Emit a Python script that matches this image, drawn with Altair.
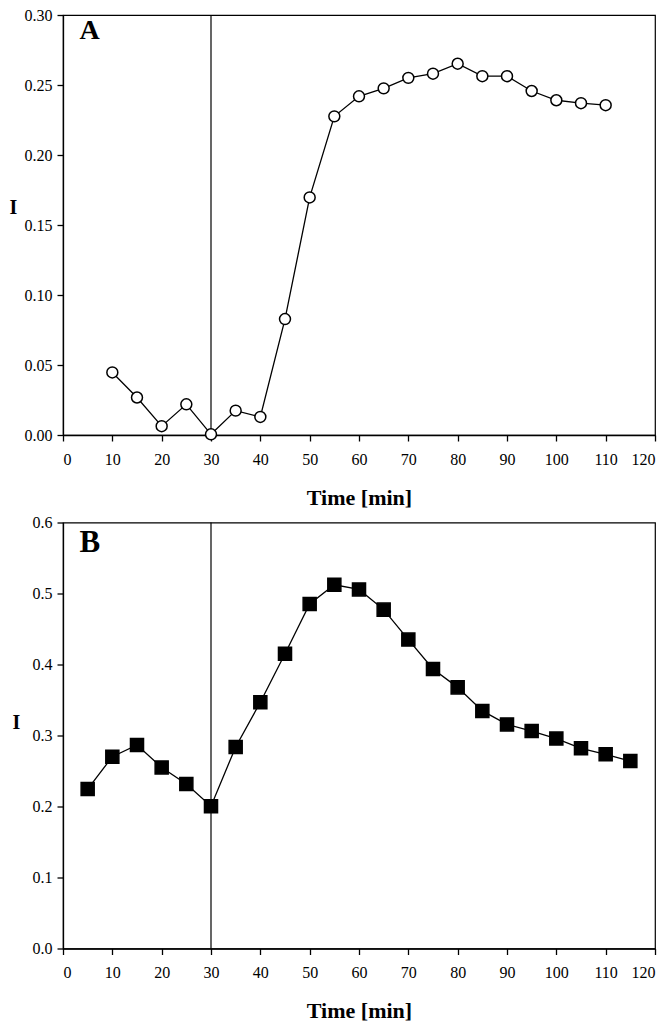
import altair as alt
import pandas as pd

time_a = [10, 15, 20, 25, 30, 35, 40, 45, 50, 55, 60, 65, 70, 75, 80, 85, 90, 95, 100, 105, 110]
i_a = [0.0447, 0.0268, 0.0063, 0.0219, 0.0005, 0.0174, 0.0129, 0.0828, 0.1697, 0.2276,
       0.2419, 0.2476, 0.2551, 0.2581, 0.2652, 0.2563, 0.2563, 0.2457, 0.2391, 0.2370, 0.2356]

time_b = [5, 10, 15, 20, 25, 30, 35, 40, 45, 50, 55, 60, 65, 70, 75, 80, 85, 90, 95, 100, 105, 110, 115]
i_b = [0.2246, 0.2701, 0.2867, 0.2550, 0.2318, 0.2005, 0.2839, 0.3469, 0.4152, 0.4853, 0.5123,
       0.5057, 0.4773, 0.4351, 0.3938, 0.3678, 0.3346, 0.3156, 0.3062, 0.2957, 0.2820, 0.2735, 0.2640]

x_ticks = list(range(0, 121, 10))
vline_time = [30]
FONT = "Liberation Serif"

df_a = pd.DataFrame({"t": time_a, "I": i_a})
df_b = pd.DataFrame({"t": time_b, "I": i_b})
df_v = pd.DataFrame({"t": vline_time})

W = 592


def panel(df, h, ymax, ystep, fmt, letter, letter_size, letter_y, shape, filled, size,
          ititle_x, ititle_y):
    x = alt.X("t:Q", scale=alt.Scale(domain=[0, 120], nice=False),
              axis=alt.Axis(values=x_ticks, title="Time [min]", grid=False,
                            tickSize=6, labelPadding=10,
                            titleX=W / 2, titleY=62, titleBaseline="middle",
                            titleAlign="center", titleFontSize=22))
    yvals = [round(k * ystep, 3) for k in range(int(round(ymax / ystep)) + 1)]
    y = alt.Y("I:Q", scale=alt.Scale(domain=[0, ymax], nice=False),
              axis=alt.Axis(values=yvals, format=fmt, title="I", grid=False, titleAngle=0,
                            titleAlign="center", titleBaseline="middle",
                            titleX=ititle_x, titleY=ititle_y, titleFontSize=20,
                            tickSize=6, labelPadding=5))
    line = alt.Chart(df).mark_line(color="black", strokeWidth=1.3).encode(x=x, y=y)
    pts = alt.Chart(df).mark_point(shape=shape, filled=True, size=size,
                                   fill="black" if filled else "white",
                                   stroke="black", strokeWidth=1.5, opacity=1).encode(x=x, y=y)
    vrule = alt.Chart(df_v).mark_rule(color="black", strokeWidth=1.2).encode(x=alt.X("t:Q"))
    lab = alt.Chart(pd.DataFrame({"txt": [letter]})).mark_text(
        font=FONT, fontSize=letter_size, fontWeight="bold", align="left", baseline="middle",
        color="black"
    ).encode(text="txt:N", x=alt.value(16.5), y=alt.value(letter_y))
    return alt.layer(vrule, line, pts, lab).properties(width=W, height=h)


a = panel(df_a, 420, 0.30, 0.05, ".2f", "A", 28, 16, "circle", False, 120, -50, 192)
b = panel(df_b, 426, 0.6, 0.1, ".1f", "B", 31, 20, "square", True, 170, -47, 200)

chart = alt.vconcat(a, b, spacing=4.5).properties(
    padding={"left": 0, "top": -2, "right": 0, "bottom": 0},
    background="white"
).configure_view(stroke="black", strokeWidth=1.2).configure_axis(
    domainColor="black", tickColor="black", labelColor="black", titleColor="black",
    labelFont=FONT, titleFont=FONT, labelFontSize=16, titleFontWeight="bold",
    domainWidth=1.3, tickWidth=1.3
)

chart.save("out.html", embed_options={"renderer": "svg", "actions": False})
